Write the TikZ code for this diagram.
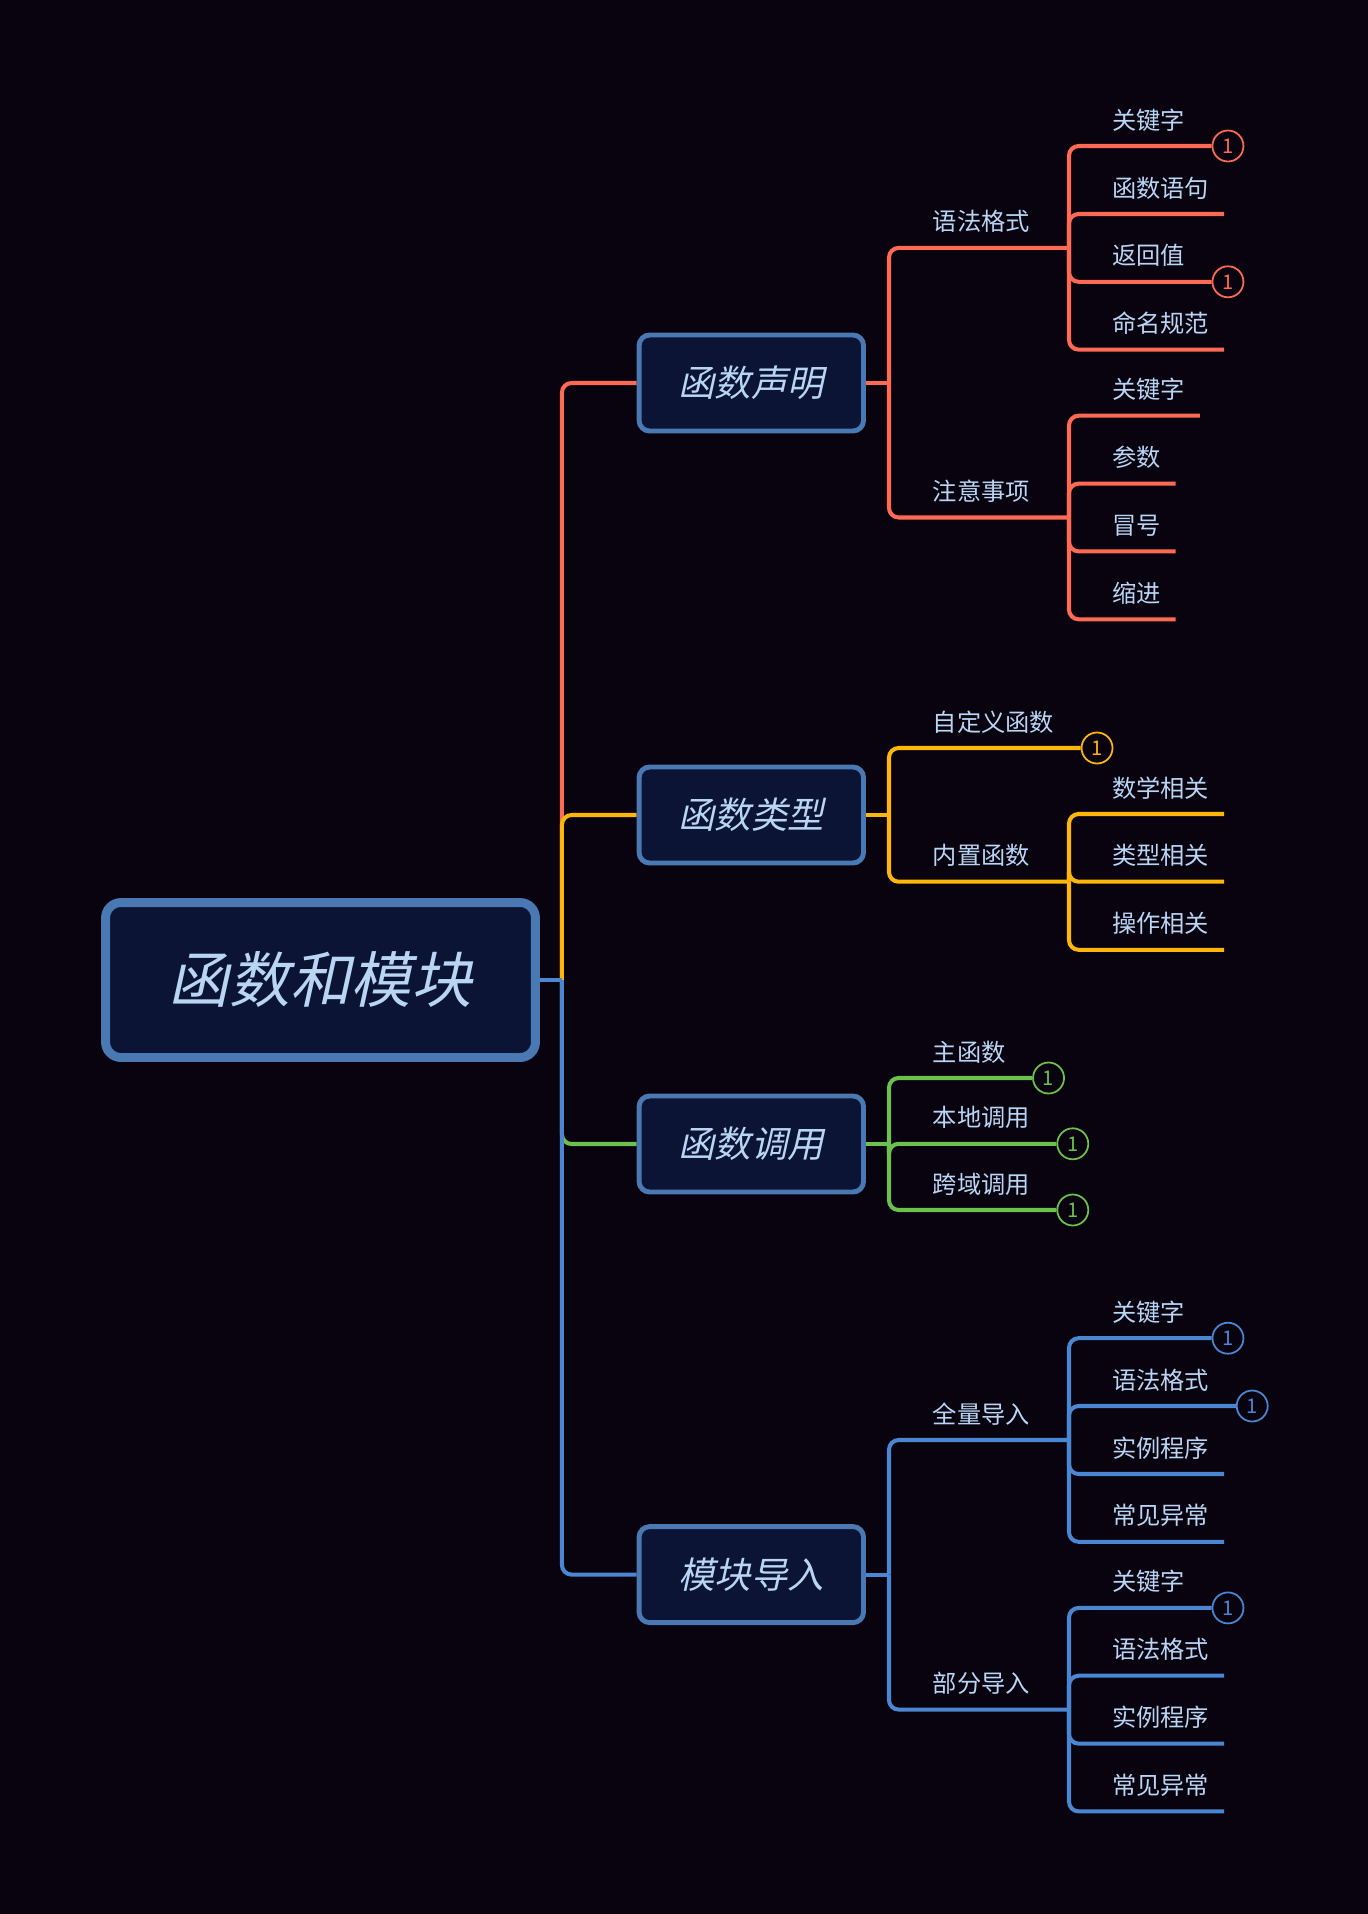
\documentclass[tikz,border=0pt]{standalone}
\usepackage{fontspec}
\setmainfont{Noto Sans CJK SC}
\newfontfamily\cjkit[FakeSlant=0.22]{Noto Sans CJK SC}
\usepackage{tikz}
\usetikzlibrary{calc,positioning,backgrounds}
\definecolor{bgc}{HTML}{09030F}
\definecolor{boxfill}{HTML}{0C1436}
\definecolor{boxline}{HTML}{4A78B2}
\definecolor{txt}{HTML}{B9D5F4}
\definecolor{cred}{HTML}{FF6A55}
\definecolor{cyel}{HTML}{FFB60A}
\definecolor{cgrn}{HTML}{6CC04C}
\definecolor{cblu}{HTML}{4A86D2}
\tikzset{
    rootbox/.style={draw=boxline,fill=boxfill,line width=5.1pt,rounded corners=8.8pt,
        minimum width=8.6cm,minimum height=3.1cm,text=txt,font=\cjkit\fontsize{34.5}{40}\selectfont},
    topicbox/.style={draw=boxline,fill=boxfill,line width=2.8pt,rounded corners=6pt,
        minimum width=4.49cm,minimum height=1.92cm,text=txt,font=\cjkit\fontsize{20.7}{24}\selectfont},
    leaf/.style={anchor=base west,inner sep=0pt,text=txt,font=\fontsize{13.8}{16}\selectfont},
    badge/.style={circle,fill=bgc,line width=1pt,minimum size=0.62cm,inner sep=0pt,
        font=\fontsize{11.5}{12}\selectfont},
    link/.style={line width=2.3pt,rounded corners=5.5pt},
}
\begin{document}
\begin{tikzpicture}[x=0.02cm,y=-0.02cm]
\useasboundingbox (0,0) rectangle (1368,1914);
% 中心主题
\node[rootbox] (root) at (320.5,980) {函数和模块};
% 一级主题
\node[topicbox] (t1) at (751.3,383) {函数声明};
\node[topicbox] (t2) at (751.3,815) {函数类型};
\node[topicbox] (t3) at (751.3,1144) {函数调用};
\node[topicbox] (t4) at (751.3,1574.6) {模块导入};
\coordinate (hub) at ($(root.east)+(22,0)$);
\foreach \i in {1,...,4}{
    \coordinate (h\i) at ($(t\i.east)+(23,0)$);
}
% 二级主题
\node[leaf] (s11) at (932.4,247.9-17) {语法格式};
\node[leaf] (s12) at (932.4,517.5-17) {注意事项};
\node[leaf] (s22) at (932.4,881.7-17) {内置函数};
\node[leaf] (s41) at (932.4,1440-17) {全量导入};
\node[leaf] (s42) at (932.4,1709.6-17) {部分导入};
\coordinate (j11) at (1069,247.9);
\coordinate (j12) at (1069,517.5);
\coordinate (j22) at (1069,881.7);
\coordinate (j41) at (1069,1440);
\coordinate (j42) at (1069,1709.6);
% 连线放在背景层,不压住方框
\begin{pgfonlayer}{background}
    \fill[bgc] (0,0) rectangle (1368,1914);
    \draw[link,cred] (hub) |- (t1.west);
    \draw[link,cyel] (hub) |- (t2.west);
    \draw[link,cgrn] (hub) |- (t3.west);
    \draw[link,cblu] (hub) |- (t4.west);
    \draw[link,cblu,sharp corners] (root.east) -- (hub);
    \draw[link,cred,sharp corners] (t1.east) -- (h1);
    \draw[link,cyel,sharp corners] (t2.east) -- (h2);
    \draw[link,cgrn,sharp corners] (t3.east) -- (h3);
    \draw[link,cblu,sharp corners] (t4.east) -- (h4);
\end{pgfonlayer}
\draw[link,cred] (h1) |- (j11);
\draw[link,cred] (h1) |- (j12);
\draw[link,cyel] (h2) |- (j22);
\draw[link,cblu] (h4) |- (j41);
\draw[link,cblu] (h4) |- (j42);
% 函数类型、函数调用 下的叶子
\foreach \nm/\lbl/\yy/\hh/\cc in {s21/自定义函数/748/h2/cyel,
        s31/主函数/1078/h3/cgrn,s32/本地调用/1143.8/h3/cgrn,s33/跨域调用/1210/h3/cgrn}{
    \node[leaf] (\nm) at (932.4,\yy-17) {\lbl};
    \node[badge,draw=\cc,text=\cc] (\nm b) at ($(\nm.base east)+(42.7,17)$) {1};
    \draw[link,\cc] (\hh) |- (\nm b.west);
}
% 三级主题
\foreach \nm/\lbl/\yy/\bd/\jj/\cc in {a1/关键字/146/1/j11/cred,a2/函数语句/214/0/j11/cred,
        a3/返回值/281.8/1/j11/cred,a4/命名规范/349.6/0/j11/cred,
        b1/关键字/415.7/0/j12/cred,b2/参数/483.6/0/j12/cred,b3/冒号/551.4/0/j12/cred,b4/缩进/619.3/0/j12/cred,
        c1/数学相关/814/0/j22/cyel,c2/类型相关/881.7/0/j22/cyel,c3/操作相关/949.8/0/j22/cyel,
        d1/关键字/1338.2/1/j41/cblu,d2/语法格式/1406/1/j41/cblu,d3/实例程序/1474/0/j41/cblu,d4/常见异常/1541.8/0/j41/cblu,
        e1/关键字/1607.9/1/j42/cblu,e2/语法格式/1675.7/0/j42/cblu,e3/实例程序/1743.6/0/j42/cblu,e4/常见异常/1811.4/0/j42/cblu}{
    \node[leaf] (\nm) at (1111.8,\yy-17) {\lbl};
    \ifnum\bd=1
        \node[badge,draw=\cc,text=\cc] (\nm b) at ($(\nm.base east)+(42.7,17)$) {1};
        \draw[link,\cc] (\jj) |- (\nm b.west);
    \else
        \draw[link,\cc] (\jj) |- ($(\nm.base east)+(14.6,17)$);
    \fi
}
\end{tikzpicture}
\end{document}
